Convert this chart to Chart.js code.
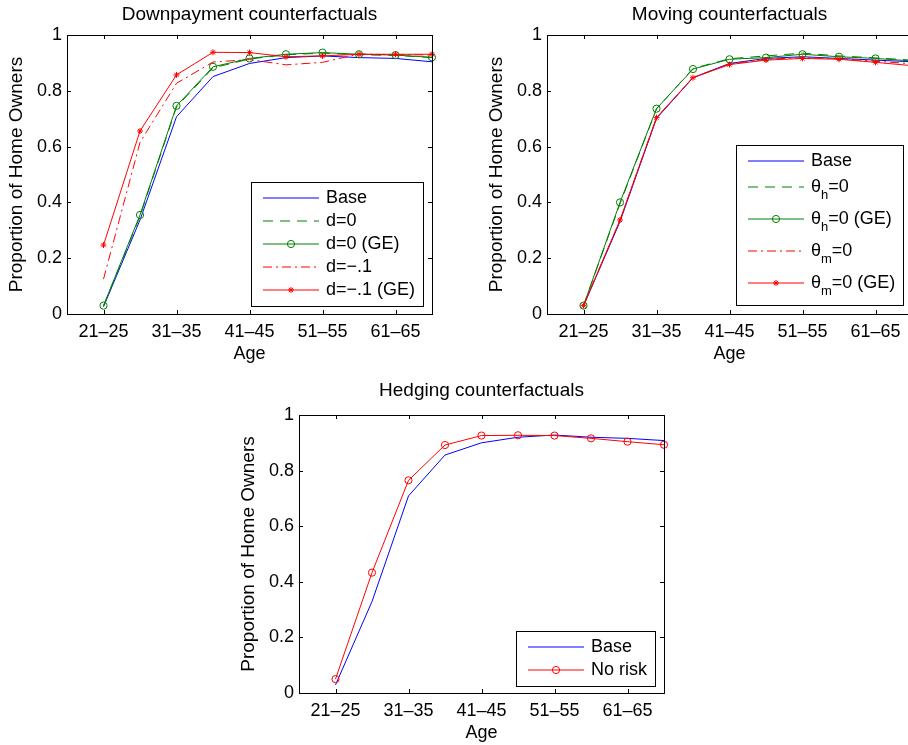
<!DOCTYPE html>
<html>
<head>
<meta charset="utf-8">
<script src="https://cdn.jsdelivr.net/npm/chart.js@4.4.1/dist/chart.umd.min.js"></script>
<style>
  html, body { margin: 0; padding: 0; background: #fff; overflow: hidden; width: 908px; height: 745px; }
  canvas { position: absolute; }
</style>
</head>
<body>
<canvas id="downChart" width="454" height="372" style="left:0px;top:0px"></canvas>
<canvas id="movingChart" width="454" height="372" style="left:480px;top:0px"></canvas>
<canvas id="hedgeChart" width="454" height="365" style="left:232px;top:380px"></canvas>
<script>
// age groups on the x axis (one point per group), only every other one is labelled
const ageGroups = ['21–25', '26–30', '31–35', '36–40', '41–45', '46–50', '51–55', '56–60', '61–65', '66–70'];
const labelledAges = ['21–25', '31–35', '41–45', '51–55', '61–65'];

// Downpayment counterfactuals
const downBase    = [0.026, 0.337, 0.707, 0.851, 0.898, 0.919, 0.925, 0.919, 0.916, 0.904];
const downD0      = [0.029, 0.350, 0.742, 0.882, 0.914, 0.929, 0.935, 0.929, 0.927, 0.919];
const downD0GE    = [0.030, 0.355, 0.746, 0.886, 0.916, 0.931, 0.937, 0.931, 0.928, 0.920];
const downDm1     = [0.125, 0.615, 0.827, 0.903, 0.912, 0.893, 0.902, 0.932, 0.929, 0.929];
const downDm1GE   = [0.247, 0.656, 0.857, 0.938, 0.937, 0.922, 0.925, 0.931, 0.931, 0.931];

// Moving counterfactuals
const moveBase    = [0.029, 0.331, 0.701, 0.847, 0.898, 0.916, 0.922, 0.916, 0.910, 0.904];
const moveTh      = [0.030, 0.395, 0.735, 0.880, 0.915, 0.925, 0.935, 0.925, 0.918, 0.910];
const moveThGE    = [0.030, 0.400, 0.736, 0.878, 0.913, 0.919, 0.931, 0.922, 0.916, 0.907];
const moveTm      = [0.030, 0.335, 0.703, 0.848, 0.896, 0.913, 0.919, 0.915, 0.906, 0.897];
const moveTmGE    = [0.030, 0.337, 0.704, 0.847, 0.894, 0.910, 0.916, 0.913, 0.902, 0.890];

// Hedging counterfactuals
const hedgeBase   = [0.029, 0.329, 0.709, 0.856, 0.900, 0.920, 0.928, 0.920, 0.916, 0.908];
const hedgeNoRisk = [0.050, 0.433, 0.765, 0.892, 0.926, 0.927, 0.926, 0.916, 0.904, 0.893];

const FONT = "'Liberation Sans', Arial, Helvetica, sans-serif";
const BLUE = '#0000ff', GREEN = '#008000', RED = '#ff0000';
const DASH = [10, 7], DASHDOT = [9, 4, 2, 4];

function pts(arr) { return arr.map((v, i) => ({ x: i, y: v })); }

function series(label, data, color, kind) {
  const ds = {
    label: label, data: pts(data), borderColor: color, backgroundColor: 'rgba(0,0,0,0)',
    borderWidth: 1, pointRadius: 0, pointHoverRadius: 0, clip: false, tension: 0,
    legendColor: color, legendDash: [], legendMarker: null
  };
  if (kind === 'dash') { ds.borderDash = DASH; ds.legendDash = DASH; }
  if (kind === 'dashdot') { ds.borderDash = DASHDOT; ds.legendDash = DASHDOT; }
  if (kind === 'circle') {
    ds.pointStyle = 'circle'; ds.pointRadius = 3.6; ds.pointBorderWidth = 1;
    ds.pointBorderColor = color; ds.pointBackgroundColor = 'rgba(0,0,0,0)';
    ds.legendMarker = { pointStyle: 'circle', radius: 3.6 };
  }
  if (kind === 'star') {
    ds.pointStyle = 'star'; ds.pointRadius = 3; ds.pointBorderWidth = 1; ds.pointBorderColor = color;
    ds.legendMarker = { pointStyle: 'star', radius: 3 };
  }
  return ds;
}

// title over the plot box, frame, inward ticks on all four sides and the boxed legend, MATLAB style
const matlabAxes = {
  id: 'matlabAxes',
  afterDraw(chart, args, opts) {
    const { ctx, chartArea: a, scales: { x, y } } = chart;
    const len = 4;
    ctx.save();

    ctx.fillStyle = '#000';
    ctx.font = '19px ' + FONT;
    ctx.textAlign = 'center';
    ctx.textBaseline = 'middle';
    ctx.fillText(opts.title, (a.left + a.right) / 2, opts.titleY);

    ctx.strokeStyle = '#000';
    ctx.lineWidth = 1;
    ctx.setLineDash([]);
    ctx.beginPath();
    x.ticks.forEach(t => {
      const px = Math.round(x.getPixelForValue(t.value)) + 0.5;
      ctx.moveTo(px, a.bottom); ctx.lineTo(px, a.bottom - len);
      ctx.moveTo(px, a.top); ctx.lineTo(px, a.top + len);
    });
    y.ticks.forEach(t => {
      const py = Math.round(y.getPixelForValue(t.value)) + 0.5;
      ctx.moveTo(a.left, py); ctx.lineTo(a.left + len, py);
      ctx.moveTo(a.right, py); ctx.lineTo(a.right - len, py);
    });
    ctx.stroke();
    ctx.strokeRect(Math.round(a.left) + 0.5, Math.round(a.top) + 0.5, Math.round(a.right - a.left), Math.round(a.bottom - a.top));

    // legend
    const items = chart.data.datasets.map(ds => {
      const parts = [];
      ds.label.split(/(_.)/).forEach(s => {
        if (!s) return;
        if (s[0] === '_') parts.push({ t: s[1], sub: true });
        else parts.push({ t: s, sub: false });
      });
      return { ds, parts, hasSub: parts.some(p => p.sub) };
    });
    const mainFont = '18px ' + FONT, subFont = '13px ' + FONT;
    let maxW = 0;
    items.forEach(it => {
      let w = 0;
      it.parts.forEach(p => { ctx.font = p.sub ? subFont : mainFont; w += ctx.measureText(p.t).width; });
      it.w = w; maxW = Math.max(maxW, w);
    });
    const rowH = it => it.hasSub ? 32 : 23;
    const boxW = Math.round(75 + maxW + 8);
    const boxH = Math.round(9 + items.reduce((s, it) => s + rowH(it), 0));
    const right = Math.round(a.right - opts.right);
    const bottom = Math.round(a.bottom - opts.bottom);
    const left = right - boxW, top = bottom - boxH;
    ctx.fillStyle = '#fff';
    ctx.fillRect(left, top, boxW, boxH);
    ctx.strokeStyle = '#000';
    ctx.strokeRect(left + 0.5, top + 0.5, boxW, boxH);
    let rowTop = top + 4.5;
    items.forEach(it => {
      const cy = Math.round(rowTop + (it.hasSub ? 14 : 11.5));
      const ds = it.ds;
      ctx.save();
      ctx.strokeStyle = ds.legendColor;
      ctx.lineWidth = 1.2;
      ctx.setLineDash(ds.legendDash);
      ctx.beginPath();
      ctx.moveTo(left + 12, cy); ctx.lineTo(left + 68, cy);
      ctx.stroke();
      ctx.setLineDash([]);
      if (ds.legendMarker) {
        ctx.lineWidth = 1;
        ctx.fillStyle = 'rgba(0,0,0,0)';
        Chart.helpers.drawPoint(ctx, { pointStyle: ds.legendMarker.pointStyle, radius: ds.legendMarker.radius, rotation: 0, borderWidth: 1 }, left + 40, cy);
      }
      ctx.restore();
      ctx.fillStyle = '#000';
      ctx.textBaseline = 'middle';
      ctx.textAlign = 'left';
      let tx = left + 75;
      it.parts.forEach(p => {
        ctx.font = p.sub ? subFont : mainFont;
        ctx.fillText(p.t, tx, p.sub ? cy + 8 : cy);
        tx += ctx.measureText(p.t).width;
      });
      rowTop += rowH(it);
    });
    ctx.restore();
  }
};

function makeChart(id, title, titleY, datasets, legendPos, padBottom) {
  datasets.forEach((ds, i) => { ds.order = datasets.length - i; });
  const font = { family: FONT, size: 18, weight: 'normal' };
  const titleFont = { family: FONT, size: 19, weight: 'normal' };
  return new Chart(document.getElementById(id), {
    type: 'line',
    data: { datasets: datasets },
    plugins: [matlabAxes],
    options: {
      responsive: false,
      animation: false,
      events: [],
      layout: { padding: { left: 0, right: 22, top: 35, bottom: padBottom } },
      plugins: {
        legend: { display: false },
        tooltip: { enabled: false },
        title: { display: false },
        matlabAxes: Object.assign({ title: title, titleY: titleY }, legendPos)
      },
      scales: {
        x: {
          type: 'linear', min: -1, max: 9,
          afterBuildTicks: s => { s.ticks = labelledAges.map(l => ({ value: ageGroups.indexOf(l) })); },
          afterFit: s => { s.height = 50.8; },
          ticks: { callback: v => ageGroups[v], color: '#000', font: font, padding: 7, maxRotation: 0, autoSkip: false },
          grid: { display: false, drawTicks: false },
          border: { display: false },
          title: { display: true, text: 'Age', color: '#000', font: font, padding: { top: 0, bottom: 0 } }
        },
        y: {
          min: 0, max: 1,
          afterFit: s => { s.width = 67; },
          ticks: { stepSize: 0.2, callback: v => String(Math.round(v * 10) / 10), color: '#000', font: font, padding: 5 },
          grid: { display: false, drawTicks: false },
          border: { display: false },
          title: { display: true, text: 'Proportion of Home Owners', color: '#000', font: titleFont, padding: { top: 5, bottom: 0 } }
        }
      }
    }
  });
}

makeChart('downChart', 'Downpayment counterfactuals', 15, [
  series('Base', downBase, BLUE, 'solid'),
  series('d=0', downD0, GREEN, 'dash'),
  series('d=0 (GE)', downD0GE, GREEN, 'circle'),
  series('d=−.1', downDm1, RED, 'dashdot'),
  series('d=−.1 (GE)', downDm1GE, RED, 'star')
], { right: 9, bottom: 8 }, 7.2);

makeChart('movingChart', 'Moving counterfactuals', 15, [
  series('Base', moveBase, BLUE, 'solid'),
  series('θ_h=0', moveTh, GREEN, 'dash'),
  series('θ_h=0 (GE)', moveThGE, GREEN, 'circle'),
  series('θ_m=0', moveTm, RED, 'dashdot'),
  series('θ_m=0 (GE)', moveTmGE, RED, 'star')
], { right: 9, bottom: 9 }, 7.2);

makeChart('hedgeChart', 'Hedging counterfactuals', 11, [
  series('Base', hedgeBase, BLUE, 'solid'),
  series('No risk', hedgeNoRisk, RED, 'circle')
], { right: 8.6, bottom: 7 }, 1.2);
</script>
</body>
</html>
